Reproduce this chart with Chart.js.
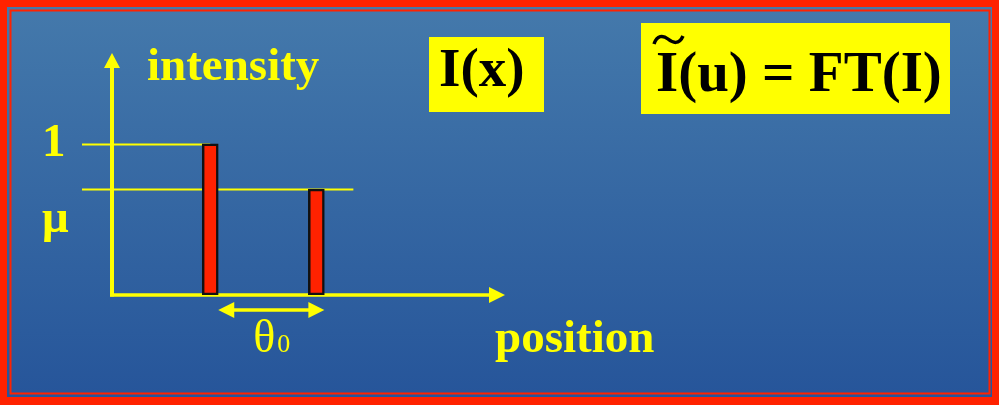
<!DOCTYPE html>
<html>
<head>
<meta charset="utf-8">
<script src="https://cdn.jsdelivr.net/npm/chart.js@4.4.0/dist/chart.umd.min.js"></script>
<style>
  html, body { margin: 0; padding: 0; background: #ff2200; }
  #wrap { width: 999px; height: 405px; position: relative; }
</style>
</head>
<body>
<div id="wrap"><canvas id="myChart"></canvas></div>
<script>
// the two intensity peaks
const positions = [1, 2.08];
const intensities = [1, 0.7];

// level lines on the intensity axis
const levelValues = [1, 0.7];
const levelLabels = ["1", "μ"];

const axisTitles = ["intensity", "position"];
const spacingLabel = ["θ", "0"];
const boxTexts = ["I(x)", "I(u) = FT(I)"];

const YELLOW = "#ffff00";
const RED = "#ff2200";
const SERIF = "'Liberation Serif', 'Times New Roman', serif";

function arrowHead(ctx, tipX, tipY, dir, len, half) {
  // dir: unit vector the arrow points to
  const bx = tipX - dir[0] * len;
  const by = tipY - dir[1] * len;
  ctx.beginPath();
  ctx.moveTo(tipX, tipY);
  ctx.lineTo(bx - dir[1] * half, by + dir[0] * half);
  ctx.lineTo(bx + dir[1] * half, by - dir[0] * half);
  ctx.closePath();
  ctx.fill();
}

const slide = {
  id: "slide",
  beforeDraw(chart) {
    const { ctx, width, height } = chart;
    ctx.save();
    ctx.fillStyle = RED;
    ctx.fillRect(0, 0, width, height);
    const g = ctx.createLinearGradient(0, 7, 0, height - 8);
    g.addColorStop(0, "#4479ab");
    g.addColorStop(1, "#26559a");
    ctx.fillStyle = g;
    ctx.fillRect(7, 7, width - 14, height - 15);
    ctx.strokeStyle = RED;
    ctx.lineWidth = 2;
    ctx.strokeRect(10.5, 10.5, width - 20, height - 22);
    ctx.restore();
  },
  beforeDatasetsDraw(chart) {
    const { ctx, chartArea: a, scales: { x, y } } = chart;
    ctx.save();
    // level lines
    ctx.strokeStyle = YELLOW;
    ctx.lineWidth = 2;
    const ends = [x.getPixelForValue(positions[0]), x.getPixelForValue(positions[1]) + 37];
    levelValues.forEach((v, i) => {
      const py = Math.round(y.getPixelForValue(v)) + 0.5;
      ctx.beginPath();
      ctx.moveTo(a.left - 30, py);
      ctx.lineTo(ends[i], py);
      ctx.stroke();
    });
    // axes
    ctx.fillStyle = YELLOW;
    ctx.lineWidth = 4;
    ctx.beginPath();
    ctx.moveTo(a.left, a.bottom + 1.5);
    ctx.lineTo(a.left, a.top + 12);
    ctx.stroke();
    arrowHead(ctx, a.left, a.top, [0, -1], 15, 8);
    ctx.lineWidth = 3.5;
    ctx.beginPath();
    ctx.moveTo(a.left - 2, a.bottom);
    ctx.lineTo(a.right - 12, a.bottom);
    ctx.stroke();
    arrowHead(ctx, a.right, a.bottom, [1, 0], 16, 8);
    ctx.restore();
  },
  afterDatasetsDraw(chart) {
    const { ctx, chartArea: a, scales: { x, y } } = chart;
    ctx.save();
    ctx.textBaseline = "alphabetic";
    ctx.textAlign = "left";

    // separation arrow between the peaks
    const x1 = x.getPixelForValue(positions[0]) + 8;
    const x2 = x.getPixelForValue(positions[1]) + 8;
    const ay = a.bottom + 15;
    ctx.strokeStyle = YELLOW;
    ctx.fillStyle = YELLOW;
    ctx.lineWidth = 3.5;
    ctx.beginPath();
    ctx.moveTo(x1 + 12, ay);
    ctx.lineTo(x2 - 12, ay);
    ctx.stroke();
    arrowHead(ctx, x1, ay, [-1, 0], 16, 8);
    arrowHead(ctx, x2, ay, [1, 0], 16, 8);

    const mid = (x1 + x2) / 2;
    ctx.font = "46px " + SERIF;
    ctx.fillText(spacingLabel[0], mid - 18, a.bottom + 57);
    ctx.font = "26px " + SERIF;
    ctx.fillText(spacingLabel[1], mid + 6, a.bottom + 57);

    // axis titles
    ctx.font = "bold 47px " + SERIF;
    ctx.fillText(axisTitles[0], a.left + 35, a.top + 27);
    ctx.fillText(axisTitles[1], a.right - 10, a.bottom + 57);

    // level labels
    const dy = [12, 43];
    levelLabels.forEach((t, i) => {
      ctx.fillText(t, a.left - 70, y.getPixelForValue(levelValues[i]) + dy[i]);
    });

    // formula boxes
    ctx.fillStyle = YELLOW;
    ctx.fillRect(429, 37, 115, 75);
    ctx.fillRect(641, 23, 309, 91);
    ctx.fillStyle = "#000";
    ctx.font = "bold 55px " + SERIF;
    ctx.fillText(boxTexts[0], 439, 86);
    ctx.font = "bold 57px " + SERIF;
    ctx.fillText(boxTexts[1], 656, 91);
    // wide tilde over the first I
    ctx.strokeStyle = "#000";
    ctx.lineWidth = 3.5;
    ctx.lineCap = "butt";
    ctx.beginPath();
    ctx.moveTo(654, 44);
    ctx.bezierCurveTo(657, 35, 663, 35, 668, 39);
    ctx.bezierCurveTo(673, 43, 679, 45, 683, 36);
    ctx.stroke();
    ctx.restore();
  }
};

const ctx_1 = document.getElementById("myChart");

new Chart(ctx_1, {
  type: "bar",
  data: {
    datasets: [
      {
        data: positions.map((p, i) => ({ x: p, y: intensities[i] })),
        backgroundColor: RED,
        borderColor: "#111",
        borderWidth: 2.5,
        borderSkipped: false,
        barThickness: 16,
      },
    ],
  },
  options: {
    responsive: true,
    maintainAspectRatio: false,
    animation: false,
    layout: { padding: { left: 112, top: 53, right: 494, bottom: 110 } },
    scales: {
      x: { type: "linear", min: 0, max: 4, offset: false, display: false },
      y: { min: 0, max: 1.6, display: false },
    },
    plugins: {
      legend: { display: false },
      tooltip: { enabled: false },
    },
  },
  plugins: [slide],
});
</script>
</body>
</html>
